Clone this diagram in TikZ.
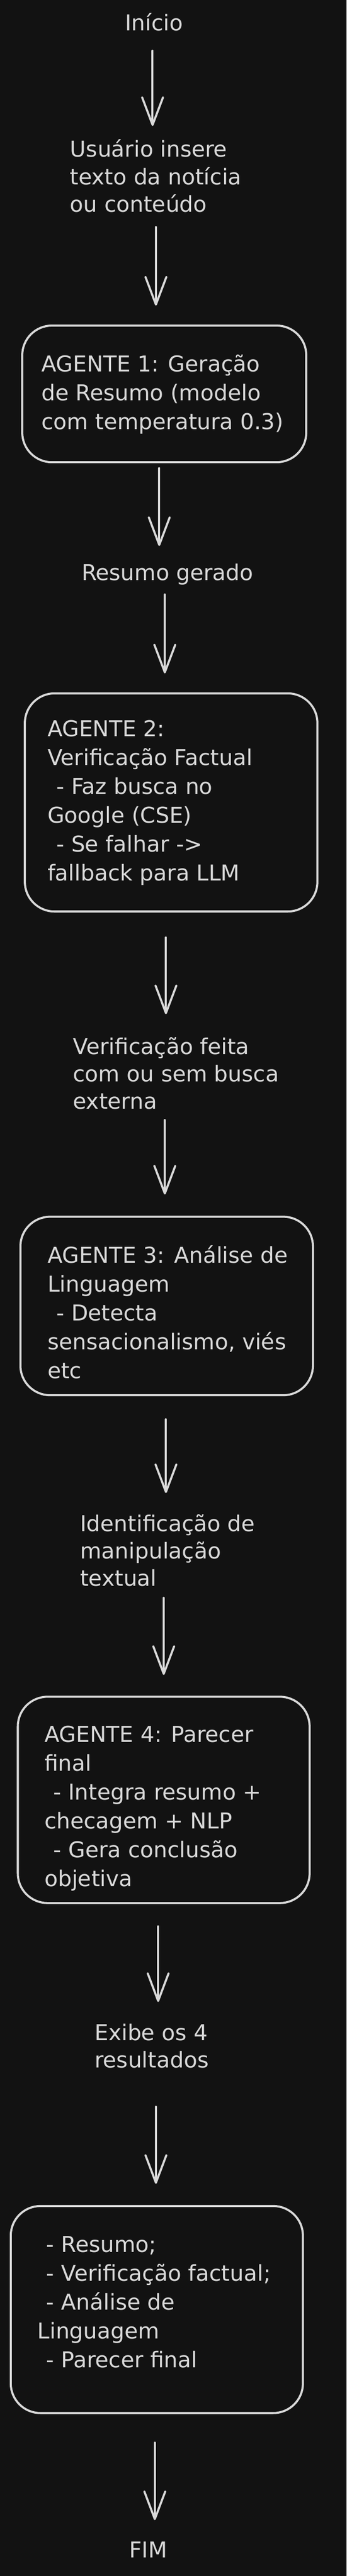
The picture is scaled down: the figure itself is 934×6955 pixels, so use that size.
\documentclass[tikz,border=0pt]{standalone}
\usepackage{fontspec}
\setmainfont{DejaVu Sans}
\usetikzlibrary{arrows.meta,fit}
\definecolor{bgc}{HTML}{121212}
\definecolor{ink}{HTML}{D9D9D9}
\newcommand\myind{\hspace*{12pt}}
\begin{document}
\begin{tikzpicture}[x=0.5pt,y=-0.5pt,
  lbl/.style={anchor=north west, inner sep=0pt, outer sep=0pt, align=left, text=ink,
              font=\fontsize{29.5pt}{37pt}\selectfont},
  btxt/.style={lbl, font=\fontsize{29.5pt}{39pt}\selectfont},
  box/.style={draw=ink, line width=2.8pt, rounded corners=40pt, inner sep=0pt, outer sep=0pt, rectangle},
  arr/.style={draw=ink, line width=2.8pt, line cap=round, -{Straight Barb[length=37pt,width=28pt,round]}},
]
\useasboundingbox (0,0) rectangle (934,6955);
\fill[bgc] (0,0) rectangle (934,6955);

% free labels
\node[lbl] (ini) at (337,31.2) {\strut Início};
\node[lbl] (usr) at (189,372.2) {\strut Usuário insere\\\strut texto da notícia\\\strut ou conteúdo};
\node[lbl] (res) at (220,1515.2) {\strut Resumo gerado};
\node[lbl] (ver) at (197,2794.2) {\strut Verificação feita\\\strut com ou sem busca\\\strut externa};
\node[lbl] (ide) at (216,4082.2) {\strut Identificação de\\\strut manipulação\\\strut textual};
\node[lbl] (exi) at (255,5457.2) {\strut Exibe os 4\\\strut resultados};
\node[lbl] (fim) at (348,6854.2) {\strut FIM};

% boxes
\node[box, fit={(60,879) (825,1248)}] (b1) {};
\node[box, fit={(67,1872) (855,2461)}] (b2) {};
\node[box, fit={(55,3285) (843,3767)}] (b3) {};
\node[box, fit={(48,4581) (834,5138)}] (b4) {};
\node[box, fit={(29,5956) (816,6515)}] (b5) {};

% box texts
\node[btxt] (t1) at (112,948.4) {\strut AGENTE 1: Geração\\\strut de Resumo (modelo\\\strut com temperatura 0.3)};
\node[btxt] (t2) at (128,1933.4) {\strut AGENTE 2:\\\strut Verificação Factual\\\strut\myind- Faz busca no\\\strut Google (CSE)\\\strut\myind- Se falhar ->\\\strut fallback para LLM};
\node[btxt] (t3) at (128,3355.4) {\strut AGENTE 3: Análise de\\\strut Linguagem\\\strut\myind- Detecta\\\strut sensacionalismo, viés\\\strut etc};
\node[btxt] (t4) at (120,4648.4) {\strut AGENTE 4: Parecer\\\strut final\\\strut\myind- Integra resumo +\\\strut checagem + NLP\\\strut\myind- Gera conclusão\\\strut objetiva};
\node[btxt] (t5) at (101,6025.4) {\strut\myind- Resumo;\\\strut\myind- Verificação factual;\\\strut\myind- Análise de\\\strut Linguagem\\\strut\myind- Parecer final};

% connectors
\draw[arr, shorten <=15.9pt, shorten >=16.1pt] (ini.south -| 411,0) -- (usr.north -| 411,0);
\draw[arr, shorten <=9.4pt, shorten >=27pt] (usr.south -| 420,0) -- (b1.north -| 420,0);
\draw[arr, shorten <=8pt, shorten >=20.6pt] (b1.south -| 429,0) -- (res.north -| 429,0);
\draw[arr, shorten <=7.9pt, shorten >=27pt] (res.south -| 444,0) -- (b2.north -| 444,0);
\draw[arr, shorten <=35pt, shorten >=28.1pt] (b2.south -| 447,0) -- (ver.north -| 447,0);
\draw[arr, shorten <=3.9pt, shorten >=30pt] (ver.south -| 444,0) -- (b3.north -| 444,0);
\draw[arr, shorten <=32.5pt, shorten >=25.6pt] (b3.south -| 447,0) -- (ide.north -| 447,0);
\draw[arr, shorten <=4.9pt, shorten >=29.5pt] (ide.south -| 441,0) -- (b4.north -| 441,0);
\draw[arr, shorten <=31.5pt, shorten >=26.1pt] (b4.south -| 426,0) -- (exi.north -| 426,0);
\draw[arr, shorten <=41.4pt, shorten >=30pt] (exi.south -| 420,0) -- (b5.north -| 420,0);
\draw[arr, shorten <=40pt, shorten >=25.1pt] (b5.south -| 417,0) -- (fim.north -| 417,0);
\end{tikzpicture}
\end{document}
